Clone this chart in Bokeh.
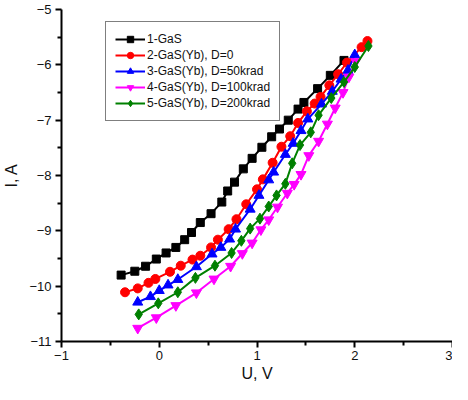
from bokeh.plotting import figure
from bokeh.models import FixedTicker, Legend, LegendItem
from bokeh.embed import file_html
from bokeh.resources import INLINE

# ---- data ----
u1 = [-0.39, -0.25, -0.14, -0.03, 0.07, 0.17, 0.26, 0.33, 0.42, 0.53, 0.64, 0.70,
      0.77, 0.86, 0.95, 1.05, 1.15, 1.23, 1.32, 1.42, 1.48, 1.62, 1.75, 1.89]
i1 = [-9.80, -9.73, -9.64, -9.51, -9.40, -9.30, -9.16, -9.03, -8.85, -8.69, -8.48, -8.28,
      -8.12, -7.88, -7.69, -7.49, -7.30, -7.16, -7.00, -6.80, -6.68, -6.43, -6.19, -5.92]

u2 = [-0.35, -0.22, -0.11, -0.04, 0.11, 0.22, 0.34, 0.42, 0.53, 0.60, 0.71, 0.79, 0.89,
      1.00, 1.06, 1.16, 1.25, 1.34, 1.42, 1.51, 1.59, 1.65, 1.74, 1.83, 1.92, 2.07, 2.13]
i2 = [-10.11, -10.04, -9.94, -9.87, -9.74, -9.63, -9.52, -9.45, -9.30, -9.16, -8.97, -8.79, -8.52,
      -8.25, -8.07, -7.77, -7.48, -7.29, -7.05, -6.84, -6.70, -6.58, -6.37, -6.17, -5.96, -5.68, -5.57]

u3 = [-0.22, -0.09, 0.00, 0.09, 0.19, 0.38, 0.54, 0.63, 0.72, 0.78, 0.93, 1.02, 1.12,
      1.17, 1.29, 1.37, 1.45, 1.52, 1.66, 1.77, 1.86, 1.93, 2.00]
i3 = [-10.29, -10.19, -10.08, -9.98, -9.88, -9.65, -9.42, -9.30, -9.15, -8.97, -8.61, -8.36, -8.08,
      -7.94, -7.62, -7.42, -7.19, -6.98, -6.71, -6.48, -6.26, -6.10, -5.82]

u4 = [-0.22, -0.03, 0.17, 0.38, 0.56, 0.73, 0.85, 0.95, 1.04, 1.12, 1.21, 1.31, 1.38,
      1.45, 1.53, 1.63, 1.72, 1.80, 1.88, 1.94, 2.01]
i4 = [-10.76, -10.57, -10.35, -10.12, -9.87, -9.64, -9.41, -9.22, -8.98, -8.80, -8.57, -8.32, -8.16,
      -7.98, -7.64, -7.38, -7.07, -6.78, -6.50, -6.22, -5.94]

u5 = [-0.21, -0.01, 0.19, 0.37, 0.57, 0.74, 0.84, 0.93, 1.03, 1.12, 1.20, 1.29, 1.36,
      1.44, 1.55, 1.63, 1.76, 1.89, 2.00, 2.14]
i5 = [-10.51, -10.31, -10.11, -9.85, -9.63, -9.40, -9.18, -8.96, -8.78, -8.56, -8.36, -8.15, -7.78,
      -7.45, -7.22, -6.91, -6.60, -6.31, -6.04, -5.66]

labels = ["1-GaS", "2-GaS(Yb), D=0", "3-GaS(Yb), D=50krad",
          "4-GaS(Yb), D=100krad", "5-GaS(Yb), D=200krad"]
x_ticks = [-1, 0, 1, 2, 3]
y_ticks = [-11, -10, -9, -8, -7, -6, -5]

series = [(u1, i1), (u2, i2), (u3, i3), (u4, i4), (u5, i5)]
colors = ["#000000", "#ff0000", "#0000ff", "#ff00ff", "#008000"]
markers = ["square", "circle", "triangle", "inverted_triangle", "diamond"]
sizes = [8, 9, 10, 10, 11]

FONT = "Liberation Sans"

p = figure(width=452, height=384, output_backend="svg", toolbar_location=None,
           x_range=(-1, 3), y_range=(-11, -5),
           min_border_left=57, min_border_right=0, min_border_top=9, min_border_bottom=42)
p.outline_line_color = None
p.xgrid.visible = False
p.ygrid.visible = False

items = []
for (xs, ys), c, m, s, lab in zip(series, colors, markers, sizes, labels):
    r1 = p.line(xs, ys, line_color=c, line_width=2)
    r2 = p.scatter(xs, ys, marker=m, size=s, fill_color=c, line_color=c)
    items.append(LegendItem(label=lab, renderers=[r1, r2]))

for ax, ticks in ((p.xaxis[0], x_ticks), (p.yaxis[0], y_ticks)):
    minors = [t + 0.5 for t in ticks[:-1]]
    ax.ticker = FixedTicker(ticks=ticks, minor_ticks=minors)
    ax.axis_line_width = 2
    ax.major_tick_line_width = 2
    ax.minor_tick_line_width = 2
    ax.major_tick_in = 0
    ax.major_tick_out = 6
    ax.minor_tick_in = 0
    ax.minor_tick_out = 4
    ax.major_label_text_font = FONT
    ax.major_label_text_font_size = "13px"
    ax.major_label_text_color = "#111111"
    ax.axis_label_text_font = FONT
    ax.axis_label_text_font_size = "16px"
    ax.axis_label_text_font_style = "normal"
    ax.axis_label_text_color = "#111111"

p.xaxis.axis_label = "U, V"
p.yaxis.axis_label = "I, A"
p.xaxis.major_label_standoff = 3
p.xaxis.axis_label_standoff = 2
p.yaxis.major_label_standoff = 4
p.yaxis.axis_label_standoff = 6

legend = Legend(items=items, location=(44, 220))
legend.border_line_color = "black"
legend.border_line_width = 1
legend.background_fill_color = "white"
legend.background_fill_alpha = 1
legend.padding = 9
legend.spacing = 0
legend.margin = 0
legend.glyph_width = 30
legend.glyph_height = 16
legend.label_height = 16
legend.label_standoff = 2
legend.label_text_font = FONT
legend.label_text_font_size = "12px"
legend.label_text_color = "#111111"
p.add_layout(legend)

open("out.html", "w").write(file_html(p, INLINE))
